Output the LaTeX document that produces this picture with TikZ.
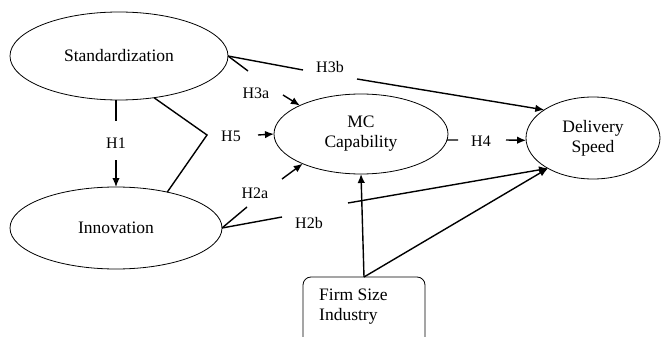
\documentclass[tikz,border=0pt]{standalone}
\usepackage{fontspec}
\setmainfont{Liberation Serif}
\usetikzlibrary{arrows.meta,shapes.geometric}

\begin{document}
\begin{tikzpicture}[x=1pt,y=-1pt,
  construct/.style={draw,ellipse,line width=0.8pt,inner sep=0pt,outer sep=0pt,align=center,font=\fontsize{17.5}{20}\selectfont},
  ctrlbox/.style={draw,rectangle,rounded corners=8pt,line width=0.8pt,inner sep=0pt,outer sep=0pt},
  hyp/.style={inner sep=0pt,font=\fontsize{16}{18}\selectfont},
  link/.style={line width=1.4pt},
  effect/.style={line width=1.4pt,-{Latex[length=9pt,width=7.5pt]}}]
\useasboundingbox (0,0) rectangle (662,337);
% constructs
\node[construct,minimum width=218pt,minimum height=88pt] (std) at (119,56) {Standardization};
\node[construct,minimum width=212pt,minimum height=82pt] (inn) at (116,228) {Innovation};
\node[construct,minimum width=174pt,minimum height=80pt] (mc) at (361,134) {MC\\Capability};
\node[construct,minimum width=134pt,minimum height=82pt] (del) at (593,138) {Delivery\\Speed};
\node[ctrlbox,minimum width=122pt,minimum height=80pt,anchor=north] (ctrl) at (364,277) {};
\node[anchor=west,align=left,inner sep=0pt,font=\fontsize{17.5}{20}\selectfont] (ctrltxt) at (319,307) {Firm Size\\Industry};
% hypotheses
\node[hyp] (h1) at (116,143) {H1};
\node[hyp] (h5) at (231,136) {H5};
\node[hyp] (h3a) at (256,93) {H3a};
\node[hyp] (h3b) at (330,67) {H3b};
\node[hyp] (h2a) at (255,193) {H2a};
\node[hyp] (h2b) at (309,223) {H2b};
\node[hyp] (h4) at (481,141) {H4};
% line breaks round the labels
\coordinate (h1u) at (116,121);
\coordinate (h1d) at (116,160);
\coordinate (h5c) at (207,135);
\coordinate (h5s) at (258,135);
\coordinate (h3ae) at (248,71);
\coordinate (h3as) at (283,95);
\coordinate (h3be) at (303,70);
\coordinate (h3bs) at (357,79);
\coordinate (h2as) at (282,179);
\coordinate (h2ae) at (247,207);
\coordinate (h2be) at (282,217);
\coordinate (h2bs) at (348,203);
\coordinate (h4e) at (458,140);
\coordinate (h4s) at (506,140);
\draw[link] (h1 |- std.south) -- (h1u);
\draw[effect] (h1d) -- (inn.north);
\draw[link] (std.-50) -- (h5c) -- (inn.35);
\draw[effect] (h5s) -- (mc.west);
\draw[link] (std.east) -- (h3ae);
\draw[effect] (h3as) -- (mc.155);
\draw[link] (std.east) -- (h3be);
\draw[effect] (h3bs) -- (del.150);
\draw[effect] (h2as) -- (mc.-153);
\draw[link] (inn.east) -- (h2ae);
\draw[link] (inn.east) -- (h2be);
\draw[effect] (h2bs) -- (del.-146);
\draw[link] (mc.-4) -- (h4e);
\draw[effect] (h4s) -- (del.182);
\draw[effect] (ctrl.north) -- (mc.south);
\draw[effect] (ctrl.north) -- (del.-146);
\end{tikzpicture}
\end{document}
